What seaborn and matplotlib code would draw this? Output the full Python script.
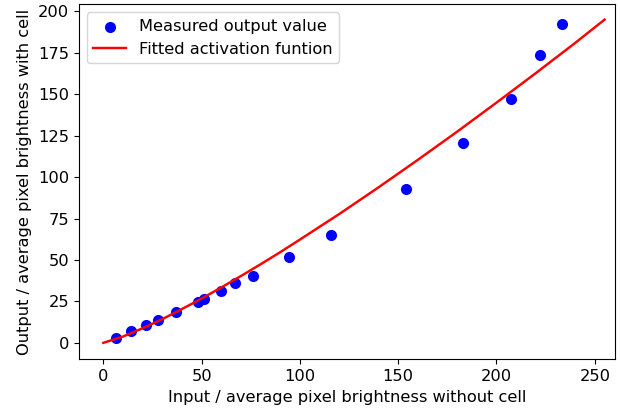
import matplotlib
matplotlib.use("Agg")
import matplotlib.pyplot as plt
import seaborn as sns

entrada = [6.7, 13.9, 21.6, 28.0, 37.2, 48.2, 51.1, 59.9, 67.2, 76.3,
           94.2, 115.7, 154.0, 183.0, 207.2, 222.3, 233.2]
salida = [2.7, 7.1, 10.7, 13.9, 18.7, 24.4, 26.2, 31.4, 36.4, 40.4,
          51.9, 65.0, 92.7, 120.3, 147.0, 173.9, 192.6]

# Curva ajustada
curva_x = [0, 10, 20, 30, 40, 50, 60, 70, 80, 90, 100, 120, 140, 160,
           180, 200, 220, 240, 255]
curva_y = [0.0, 3.8, 8.8, 14.3, 20.4, 26.7, 33.4, 40.3, 47.4, 54.7, 62.3,
           77.7, 93.8, 110.4, 127.4, 144.9, 162.7, 180.9, 195.0]

plt.rcParams['font.size'] = 11.7

fig = plt.figure(figsize=(6.2, 4.16), dpi=100)
ax = fig.add_axes([0.127, 0.136, 0.865, 0.854])

sns.scatterplot(x=entrada, y=salida, color='blue', s=64, linewidth=0,
                label='Measured output value', ax=ax, zorder=2)
sns.lineplot(x=curva_x, y=curva_y, color='red', linewidth=1.75,
             label='Fitted activation funtion', ax=ax, zorder=3)

ax.set_xlim(-12.5, 260.3)
ax.set_ylim(-10, 204.3)
ax.set_xticks([0, 50, 100, 150, 200, 250])
ax.set_yticks([0, 25, 50, 75, 100, 125, 150, 175, 200])
ax.set_xlabel('Input / average pixel brightness without cell')
ax.set_ylabel('Output / average pixel brightness with cell')
ax.legend(loc='upper left')

fig.savefig('out.png', dpi=100)
